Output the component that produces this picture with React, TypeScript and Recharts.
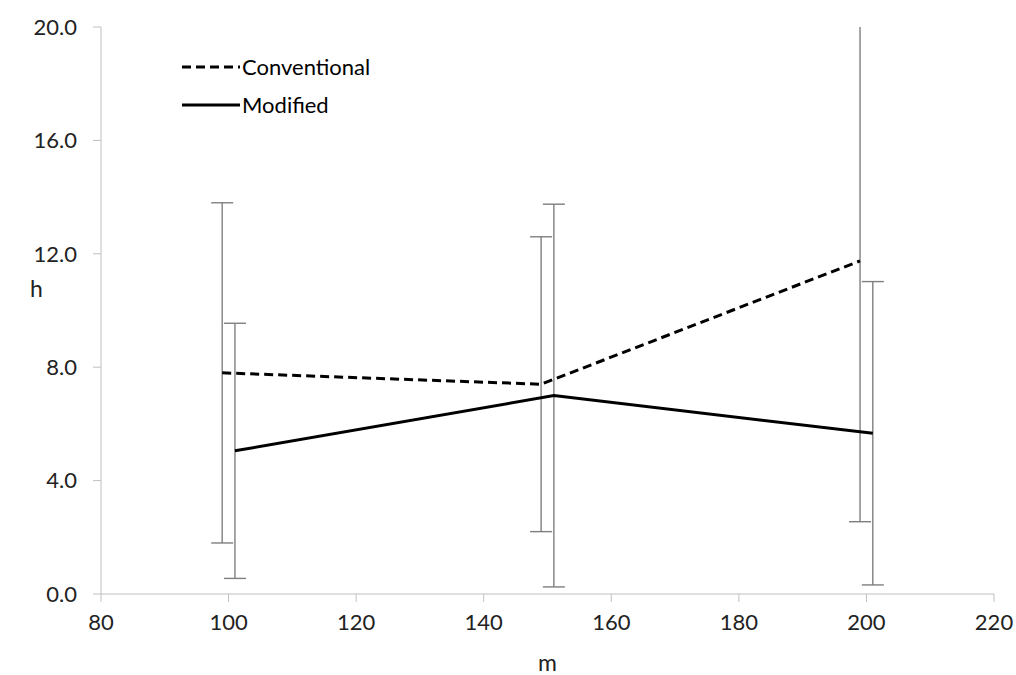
import React from "react";
import { LineChart, Line, XAxis, YAxis, ErrorBar } from "recharts";

const mTicks = [80, 100, 120, 140, 160, 180, 200, 220];
const hTicks = [0, 4, 8, 12, 16, 20];

const convM = [99, 149, 199];
const convH = [7.8, 7.4, 11.75];
const convErr = [6.0, 5.2, 9.2];

const modM = [101, 151, 201];
const modH = [5.05, 7.0, 5.67];
const modErr = [4.5, 6.75, 5.35];

const convData = convM.map((m, i) => ({ m, h: convH[i], err: convErr[i] }));
const modData = modM.map((m, i) => ({ m, h: modH[i], err: modErr[i] }));

const font = "Lato, 'Noto Sans', sans-serif";
const axisGray = "#bfbfbf";
const barGray = "#7f7f7f";

function LegendBox() {
  const row = (dash: string | undefined, label: string) => (
    <div style={{ display: "flex", alignItems: "center", height: 38 }}>
      <svg width={60} height={10}>
        <line x1={0} y1={5} x2={58} y2={5} stroke="#000" strokeWidth={3} strokeDasharray={dash} />
      </svg>
      <span style={{ fontFamily: font, fontSize: 22, color: "#000", lineHeight: "38px" }}>{label}</span>
    </div>
  );
  return (
    <div style={{ position: "absolute", left: 182, top: 48 }}>
      {row("9 5", "Conventional")}
      {row(undefined, "Modified")}
    </div>
  );
}

export default function App() {
  return (
    <div style={{ position: "absolute", left: 0, top: 0, width: 1016, height: 675, background: "#fff" }}>
      <LineChart
        width={1016}
        height={675}
        margin={{ top: 27, right: 22, left: 0, bottom: 0 }}
      >
        <defs>
          <clipPath id="plotClip">
            <rect x={101} y={27} width={893} height={567} />
          </clipPath>
        </defs>
        <XAxis
          type="number"
          dataKey="m"
          domain={[80, 220]}
          ticks={mTicks}
          allowDuplicatedCategory={false}
          stroke={axisGray}
          tickSize={8}
          tickMargin={12}
          height={81}
          tick={{ fill: "#222", fontSize: 22, fontFamily: font }}
          label={{ value: "m", position: "insideBottom", offset: 4, fill: "#222", fontSize: 23, fontFamily: font }}
        />
        <YAxis
          type="number"
          domain={[0, 20]}
          ticks={hTicks}
          allowDataOverflow
          width={101}
          stroke={axisGray}
          tickSize={8}
          tickMargin={16}
          tickFormatter={(v: number) => v.toFixed(1)}
          tick={{ fill: "#222", fontSize: 22, fontFamily: font }}
          label={{ value: "h", position: "insideLeft", offset: 30, dy: -22, fill: "#222", fontSize: 23, fontFamily: font }}
        />
        <Line
          data={convData}
          dataKey="h"
          name="Conventional"
          stroke="#000"
          strokeWidth={3}
          strokeDasharray="9 5"
          dot={false}
          isAnimationActive={false}
        >
          <ErrorBar dataKey="err" width={11} stroke={barGray} strokeWidth={1.4} direction="y" clipPath="url(#plotClip)" isAnimationActive={false} />
        </Line>
        <Line
          data={modData}
          dataKey="h"
          name="Modified"
          stroke="#000"
          strokeWidth={3}
          dot={false}
          isAnimationActive={false}
        >
          <ErrorBar dataKey="err" width={11} stroke={barGray} strokeWidth={1.4} direction="y" clipPath="url(#plotClip)" isAnimationActive={false} />
        </Line>
      </LineChart>
      <LegendBox />
    </div>
  );
}
